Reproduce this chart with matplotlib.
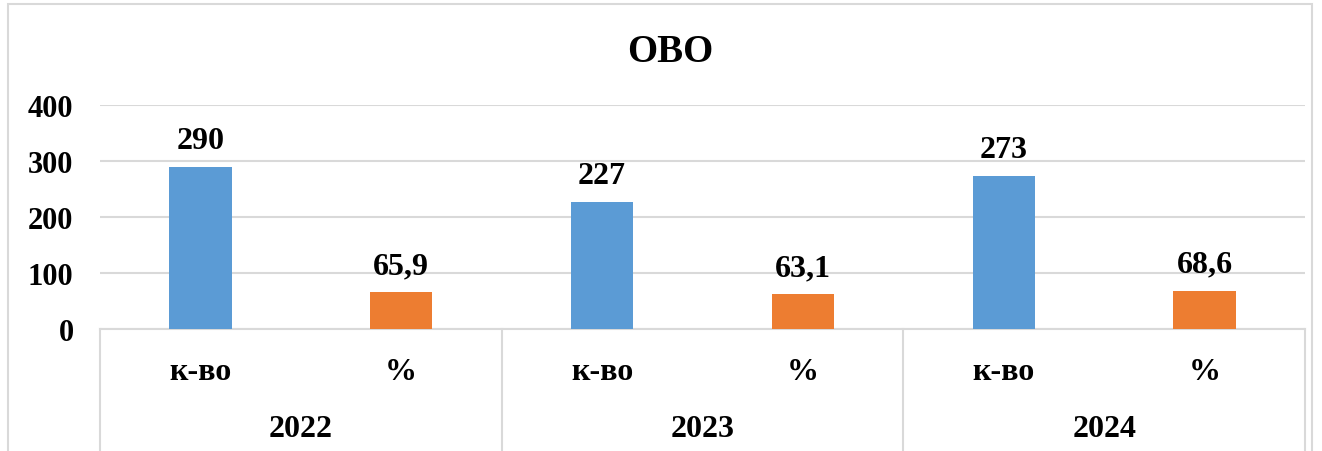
import matplotlib
matplotlib.use("Agg")
import matplotlib.pyplot as plt
from matplotlib.patches import Rectangle

# data
years = ["2022", "2023", "2024"]
sub_labels = ["к-во", "%"]
counts = [290, 227, 273]
percents = [65.9, 63.1, 68.6]
percent_labels = ["65,9", "63,1", "68,6"]
title = "ОВО"
yticks = [0, 100, 200, 300, 400]

W, H = 1322, 452
fig = plt.figure(figsize=(W / 100, H / 100), dpi=100)
plt.rcParams['font.family'] = ['Liberation Serif', 'DejaVu Serif']

x0, x1 = 100, 1305
y0, y1 = 330, 106
ax = fig.add_axes([x0 / W, (H - y0) / H, (x1 - x0) / W, (y0 - y1) / H])

# outer frame
fig.patches.append(Rectangle((8 / W, -0.05), (1312 - 8) / W, (H - 5) / H + 0.05,
                             transform=fig.transFigure, fill=False,
                             edgecolor="#D9D9D9", lw=1.5, zorder=0))

blue = "#5B9BD5"
orange = "#ED7D31"
bw = 0.31
fs_lab = 23
for i in range(len(years)):
    xb = 2 * i
    xo = 2 * i + 1
    ax.bar(xb, counts[i], width=bw, color=blue, zorder=3)
    ax.bar(xo, percents[i], width=bw, color=orange, zorder=3)
    ax.annotate(str(counts[i]), (xb, counts[i]), xytext=(0, 13.5), textcoords="offset points",
                ha="center", va="baseline", fontsize=fs_lab, fontweight="bold")
    ax.annotate(percent_labels[i], (xo, percents[i]), xytext=(0, 13.5), textcoords="offset points",
                ha="center", va="baseline", fontsize=fs_lab, fontweight="bold")

ax.set_xlim(-0.5, 5.5)
ax.set_ylim(0, 400)
ax.set_yticks(yticks)
ax.set_yticklabels([str(t) for t in yticks], fontsize=22, fontweight="bold")
ax.tick_params(axis="y", length=0, pad=19)
ax.set_xticks([])
for s in ax.spines.values():
    s.set_visible(False)
ax.grid(axis="y", color="#D9D9D9", lw=1.5, zorder=0)
ax.set_axisbelow(True)

# multi-level category axis
trans = ax.get_xaxis_transform()
ah = y0 - y1
def ay(py):
    return (y0 - py) / ah

ax.plot([-0.5, 5.5], [0, 0], transform=trans, color="#D9D9D9", lw=1.5, clip_on=False, zorder=2)
for xs in [-0.5, 1.5, 3.5, 5.5]:
    ax.plot([xs, xs], [0, ay(460)], transform=trans, color="#D9D9D9", lw=1.5, clip_on=False)
for i, yr in enumerate(years):
    for j, sl in enumerate(sub_labels):
        ax.text(2 * i + j, ay(380), sl, transform=trans, ha="center", va="baseline",
                fontsize=fs_lab, fontweight="bold")
    ax.text(2 * i + 0.5, ay(437), yr, transform=trans, ha="center", va="baseline",
            fontsize=fs_lab, fontweight="bold")

fig.text(670 / W, (H - 62) / H, title, ha="center", va="baseline", fontsize=28, fontweight="bold")

fig.savefig("out.png", dpi=100)
